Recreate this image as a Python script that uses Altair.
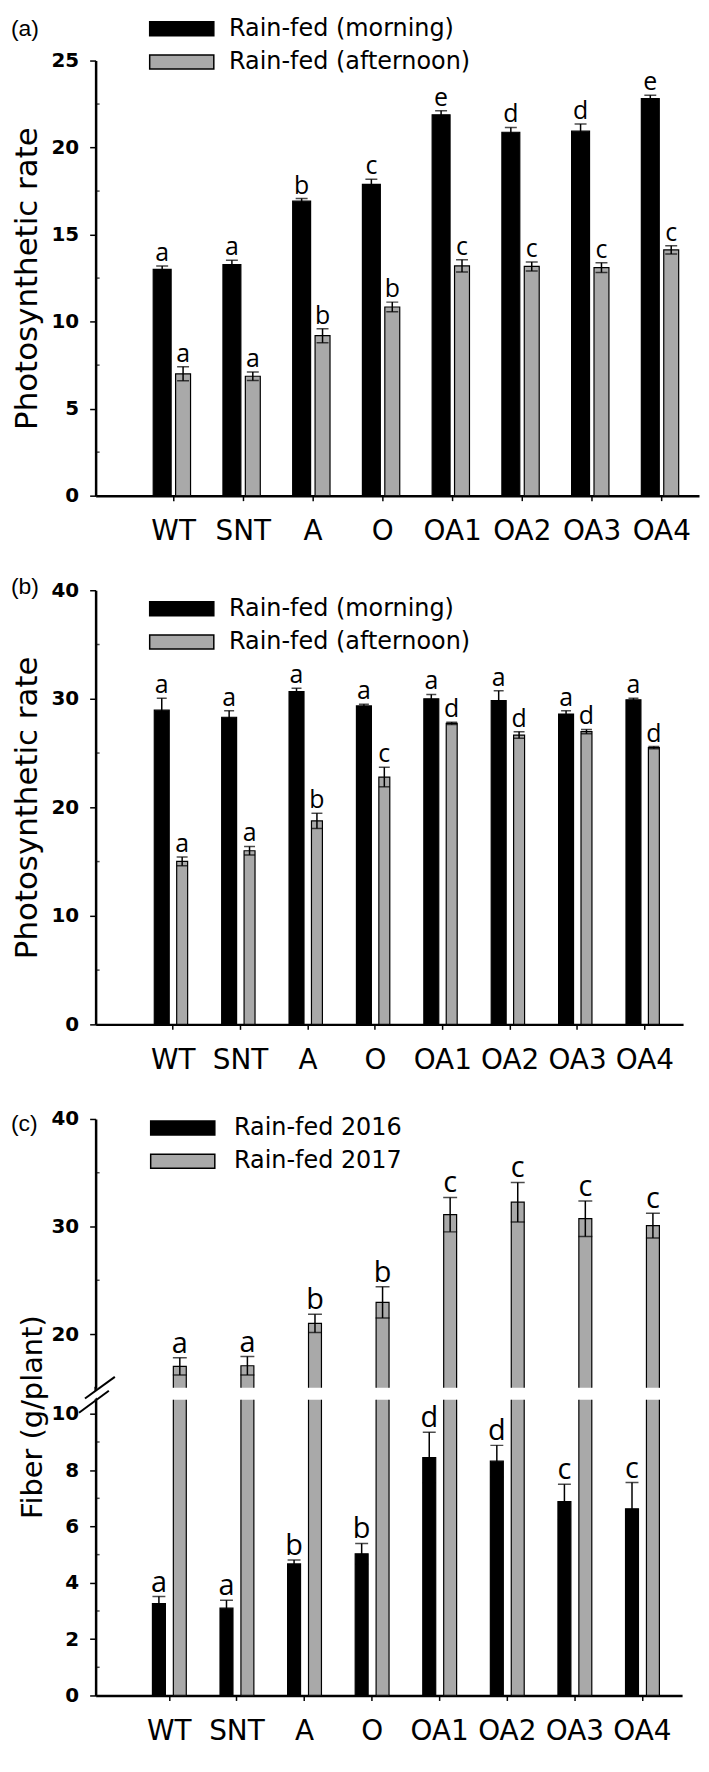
import json
import altair as alt
import pandas as pd

GENOTYPES = ["WT", "SNT", "A", "O", "OA1", "OA2", "OA3", "OA4"]
PANEL_LABELS = ["(a)", "(b)", "(c)"]

# ---- panel (a): photosynthetic rate ----
A_SERIES = ["Rain-fed (morning)", "Rain-fed (afternoon)"]
A_MORNING = [13.0, 13.27, 16.92, 17.88, 21.88, 20.88, 20.94, 22.81]
A_MORNING_ERR = [0.2, 0.25, 0.15, 0.3, 0.24, 0.28, 0.42, 0.2]
A_MORNING_LET = ["a", "a", "b", "c", "e", "d", "d", "e"]
A_AFTERNOON = [7.0, 6.86, 9.19, 10.84, 13.2, 13.17, 13.1, 14.12]
A_AFTERNOON_ERR = [0.4, 0.25, 0.4, 0.28, 0.35, 0.26, 0.28, 0.24]
A_AFTERNOON_LET = ["a", "a", "b", "b", "c", "c", "c", "c"]
A_TICKS = [0, 5, 10, 15, 20, 25]
A_MINOR = [2.5, 7.5, 12.5, 17.5, 22.5]

# ---- panel (b): photosynthetic rate ----
B_SERIES = ["Rain-fed (morning)", "Rain-fed (afternoon)"]
B_MORNING = [28.95, 28.3, 30.66, 29.34, 30.0, 29.84, 28.59, 29.9]
B_MORNING_ERR = [1.1, 0.6, 0.3, 0.15, 0.4, 0.9, 0.3, 0.15]
B_MORNING_LET = ["a", "a", "a", "a", "a", "a", "a", "a"]
B_AFTERNOON = [15.02, 16.0, 18.75, 22.79, 27.74, 26.66, 26.98, 25.5]
B_AFTERNOON_ERR = [0.4, 0.4, 0.7, 0.9, 0.1, 0.3, 0.2, 0.1]
B_AFTERNOON_LET = ["a", "a", "b", "c", "d", "d", "d", "d"]
B_TICKS = [0, 10, 20, 30, 40]
B_MINOR = [5, 15, 25, 35]

# ---- panel (c): fiber ----
C_SERIES = ["Rain-fed 2016", "Rain-fed 2017"]
C_2016 = [3.26, 3.1, 4.67, 5.03, 8.45, 8.32, 6.88, 6.63]
C_2016_ERR = [0.25, 0.28, 0.14, 0.37, 0.9, 0.56, 0.62, 0.93]
C_2016_LET = ["a", "a", "b", "b", "d", "d", "c", "c"]
C_2017 = [17.0, 17.05, 21.0, 22.95, 31.1, 32.26, 30.73, 30.08]
C_2017_ERR = [0.8, 0.85, 0.85, 1.45, 1.6, 1.84, 1.65, 1.15]
C_2017_LET = ["a", "a", "b", "b", "c", "c", "c", "c"]
C_UP_TICKS = [20, 30, 40]
C_UP_MINOR = [25, 35]
C_LOW_TICKS = [0, 2, 4, 6, 8, 10]
C_LOW_MINOR = [1, 3, 5, 7, 9]

BLACK = "#000000"
GRAY = "#a9a9a9"
FONT = "DejaVu Sans"
LETTER_FONT = "Open Sans"
LABEL_EXPR = json.dumps(GENOTYPES) + "[datum.value - 1]"


def frame(series, vals, errs, lets):
    rows = []
    for s, v, e, l in zip(series, vals, errs, lets):
        for i, g in enumerate(GENOTYPES):
            rows.append(dict(genotype=g, pos=i + 1, series=s, value=v[i], err=e[i],
                             lo=v[i] - e[i], hi=v[i] + e[i], letter=l[i]))
    return pd.DataFrame(rows)


def x_enc(domain, show_axis=True):
    if show_axis:
        axis = alt.Axis(values=list(range(1, len(GENOTYPES) + 1)), labelExpr=LABEL_EXPR,
                        title=None, labelAngle=0, labelFont=FONT, labelFontSize=28,
                        labelPadding=17, tickSize=5, tickWidth=1.5, domainWidth=2.5,
                        labelColor="black", tickColor="black", domainColor="black",
                        grid=False, labelFlush=False, labelOverlap=False)
    else:
        axis = None
    return alt.X("pos:Q", scale=alt.Scale(domain=domain, nice=False, zero=False), axis=axis)


def y_axis(ticks, title, title_x, title_y, title_size=31):
    if title is None:
        return alt.Axis(values=ticks, title=None, labelFont=FONT, labelFontWeight="bold",
                        labelFontSize=20, labelPadding=11, labelColor="black", tickSize=6,
                        tickWidth=1.5, tickColor="black", domainWidth=2.5, domainColor="black",
                        grid=False, labelFlush=False)
    return alt.Axis(values=ticks, title=title, titleFont=FONT, titleFontSize=title_size,
                    titleFontWeight="normal", titleColor="black", titleX=title_x, titleY=title_y,
                    labelFont=FONT, labelFontWeight="bold", labelFontSize=20, labelPadding=11,
                    labelColor="black", tickSize=6, tickWidth=1.5, tickColor="black",
                    domainWidth=2.5, domainColor="black", grid=False, labelFlush=False)


def legend(x, y, label_offset):
    return alt.Legend(orient="none", legendX=x, legendY=y, title=None, direction="vertical",
                      symbolType="M-4.6,-1H4.6V1H-4.6Z", symbolSize=196,
                      symbolStrokeColor="black", symbolStrokeWidth=1.5, symbolOpacity=1,
                      labelFont=FONT, labelFontSize=24, labelColor="black",
                      labelOffset=label_offset, rowPadding=9.5, padding=0, labelLimit=400)


def series_layers(df, series_all, s_idx, xe, yscale, yaxis, leg, bw, off, cap, lsize,
                  show_letters=True):
    s = series_all[s_idx]
    base = alt.Chart(df).transform_filter(alt.datum.series == s)
    color = alt.Color("series:N", scale=alt.Scale(domain=series_all, range=[BLACK, GRAY]),
                      legend=leg)
    layers = [
        base.mark_bar(size=bw, xOffset=off, stroke="black", strokeWidth=1.2, clip=True).encode(
            x=xe, y=alt.Y("value:Q", scale=yscale, axis=yaxis), color=color),
        base.mark_rule(xOffset=off, strokeWidth=1.5, color="black", clip=True).encode(
            x=xe, y=alt.Y("lo:Q", scale=yscale, axis=yaxis), y2="hi:Q"),
        base.mark_tick(orient="horizontal", size=cap, thickness=1.5, xOffset=off,
                       color="black", clip=True).encode(
            x=xe, y=alt.Y("hi:Q", scale=yscale, axis=yaxis)),
        base.mark_tick(orient="horizontal", size=cap, thickness=1.5, xOffset=off,
                       color="black", clip=True).encode(
            x=xe, y=alt.Y("lo:Q", scale=yscale, axis=yaxis)),
    ]
    if show_letters:
        layers.append(
            base.mark_text(xOffset=off, dy=-5, baseline="alphabetic", font=LETTER_FONT,
                           fontSize=lsize, color="black").encode(
                x=xe, y=alt.Y("hi:Q", scale=yscale, axis=yaxis), text="letter:N"))
    return layers


def minor_layer(values, yscale, yaxis):
    return alt.Chart(pd.DataFrame({"m": values})).mark_tick(
        orient="horizontal", size=4, thickness=1.5, color="black").encode(
        x=alt.value(2), y=alt.Y("m:Q", scale=yscale, axis=yaxis))


def panel_label(text, y):
    return alt.Chart(pd.DataFrame({"t": [text]})).mark_text(
        align="left", baseline="middle", font="Liberation Sans", fontSize=23,
        color="black").encode(x=alt.value(-85), y=alt.value(y), text="t:N")


# ---------- panel (a) ----------
A_W, A_H = 606, 437
dfa = frame(A_SERIES, [A_MORNING, A_AFTERNOON], [A_MORNING_ERR, A_AFTERNOON_ERR],
            [A_MORNING_LET, A_AFTERNOON_LET])
xa = x_enc([-0.04, 8.47])
ysa = alt.Scale(domain=[0, 25], nice=False, zero=False)
yaa = y_axis(A_TICKS, "Photosynthetic rate", -52, A_H / 2)
lega = legend(74.5, -44, 35.5)
pa = alt.layer(
    *series_layers(dfa, A_SERIES, 0, xa, ysa, yaa, lega, 18, -11, 12, 25),
    *series_layers(dfa, A_SERIES, 1, xa, ysa, yaa, lega, 15, 10, 12, 25),
    minor_layer(A_MINOR, ysa, yaa),
    panel_label(PANEL_LABELS[0], -32),
).properties(width=A_W, height=A_H)

# ---------- panel (b) ----------
B_W, B_H = 590, 436
dfb = frame(B_SERIES, [B_MORNING, B_AFTERNOON], [B_MORNING_ERR, B_AFTERNOON_ERR],
            [B_MORNING_LET, B_AFTERNOON_LET])
xb = x_enc([-0.07, 8.5])
ysb = alt.Scale(domain=[0, 40], nice=False, zero=False)
yab = y_axis(B_TICKS, "Photosynthetic rate", -52, B_H / 2)
legb = legend(74.5, 6.5, 35.5)
pb = alt.layer(
    *series_layers(dfb, B_SERIES, 0, xb, ysb, yab, legb, 15, -11, 10, 25),
    *series_layers(dfb, B_SERIES, 1, xb, ysb, yab, legb, 11, 9.5, 11, 25),
    minor_layer(B_MINOR, ysb, yab),
    panel_label(PANEL_LABELS[1], -3),
).properties(width=B_W, height=B_H)

# ---------- panel (c) ----------
C_W, C_UP_H, C_LOW_H = 589, 270, 297
dfc = frame(C_SERIES, [C_2016, C_2017], [C_2016_ERR, C_2017_ERR], [C_2016_LET, C_2017_LET])
xc = x_enc([-0.01, 8.52])
xc_up = x_enc([-0.01, 8.52], show_axis=False)
ysc_up = alt.Scale(domain=[15, 40], nice=False, zero=False)
yac_up = y_axis(C_UP_TICKS, None, 0, 0)
legc = legend(75.5, -3, 39.5)
pc_up = alt.layer(
    *series_layers(dfc, C_SERIES, 1, xc_up, ysc_up, yac_up, legc, 13, 11, 14, 29),
    minor_layer(C_UP_MINOR, ysc_up, yac_up),
    panel_label(PANEL_LABELS[2], 5),
).properties(width=C_W, height=C_UP_H)

ysc_low = alt.Scale(domain=[0, 10.5], nice=False, zero=False)
yac_low = y_axis(C_LOW_TICKS, "Fiber (g/plant)", -48, 17, 29)
one = pd.DataFrame({"k": [0]})
pc_low = alt.layer(
    *series_layers(dfc, C_SERIES, 0, xc, ysc_low, yac_low, None, 13, -10, 13, 29),
    *series_layers(dfc, C_SERIES, 1, xc, ysc_low, yac_low, None, 13, 11, 14, 29,
                   show_letters=False),
    minor_layer(C_LOW_MINOR, ysc_low, yac_low),
    # axis-break decoration
    alt.Chart(one).mark_rule(color="black", strokeWidth=2.5).encode(
        x=alt.value(0), y=alt.value(-13), y2=alt.value(0)),
    alt.Chart(one).mark_rule(color="white", strokeWidth=7).encode(
        x=alt.value(-12), x2=alt.value(16), y=alt.value(3), y2=alt.value(-17)),
    alt.Chart(one).mark_rule(color="black", strokeWidth=2).encode(
        x=alt.value(-10.7), x2=alt.value(19.3), y=alt.value(-1.3), y2=alt.value(-23)),
    alt.Chart(one).mark_rule(color="black", strokeWidth=2).encode(
        x=alt.value(-16.7), x2=alt.value(13.3), y=alt.value(13), y2=alt.value(-9)),
).properties(width=C_W, height=C_LOW_H)

pc = alt.vconcat(pc_up, pc_low, spacing=12, bounds="flush")

chart = alt.vconcat(pa, pb, pc, spacing=95, bounds="flush").properties(
    padding={"left": 3, "top": 5, "right": 2, "bottom": 2}, background="white"
).configure_view(stroke=None).resolve_scale(color="independent")

chart.save("out.html", embed_options={"renderer": "svg", "actions": False})
